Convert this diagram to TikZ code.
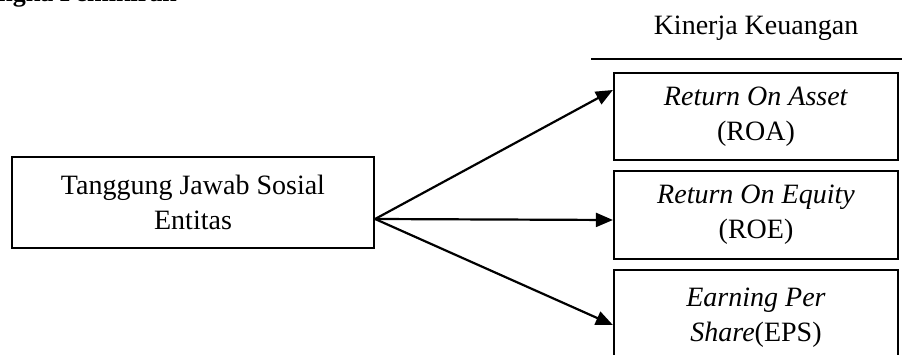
\documentclass[tikz,border=0pt]{standalone}
\usepackage{fontspec}
\setmainfont{Liberation Serif}
\usetikzlibrary{arrows.meta}
\begin{document}
\begin{tikzpicture}[x=1pt,y=-1pt,
  box/.style={draw,line width=2.2pt,rectangle,align=center,inner sep=0pt,
    font=\fontsize{28}{35}\selectfont},
  conn/.style={line width=2.2pt,-{Triangle[length=17pt,width=14pt]}},
  lbl/.style={inner sep=0pt,font=\fontsize{28}{35}\selectfont}]
\useasboundingbox (0,0) rectangle (902,355);
\clip (0,0) rectangle (902,355);
\node[lbl,anchor=base east,font=\fontsize{26}{32}\selectfont\bfseries] (title) at (177,2) {Kerangka Pemikiran};
\node[lbl,anchor=base] (kk) at (756,35) {Kinerja Keuangan};
\coordinate (rs) at (591,59);
\coordinate (re) at (905,59);
\draw[line width=2.2pt] (rs) -- (re);
\node[box,minimum width=362pt,minimum height=91pt] (L) at (193,202.5) {Tanggung Jawab Sosial\\Entitas};
\node[box,minimum width=284pt,minimum height=87pt] (ROA) at (756,116.5) {\textit{Return On Asset}\\(ROA)};
\node[box,minimum width=284pt,minimum height=88pt] (ROE) at (756,215) {\textit{Return On Equity}\\(ROE)};
\node[box,minimum width=284pt,minimum height=96pt] (EPS) at (756,318) {\textit{Earning Per}\\\textit{Share}(EPS)};
\coordinate (o) at ([yshift=-16.5pt]L.east);
\draw[conn] (o) -- ([yshift=26.5pt]ROA.west);
\draw[conn] (o) -- ([yshift=-5pt]ROE.west);
\draw[conn] (o) -- ([yshift=-7pt]EPS.west);
\end{tikzpicture}
\end{document}
